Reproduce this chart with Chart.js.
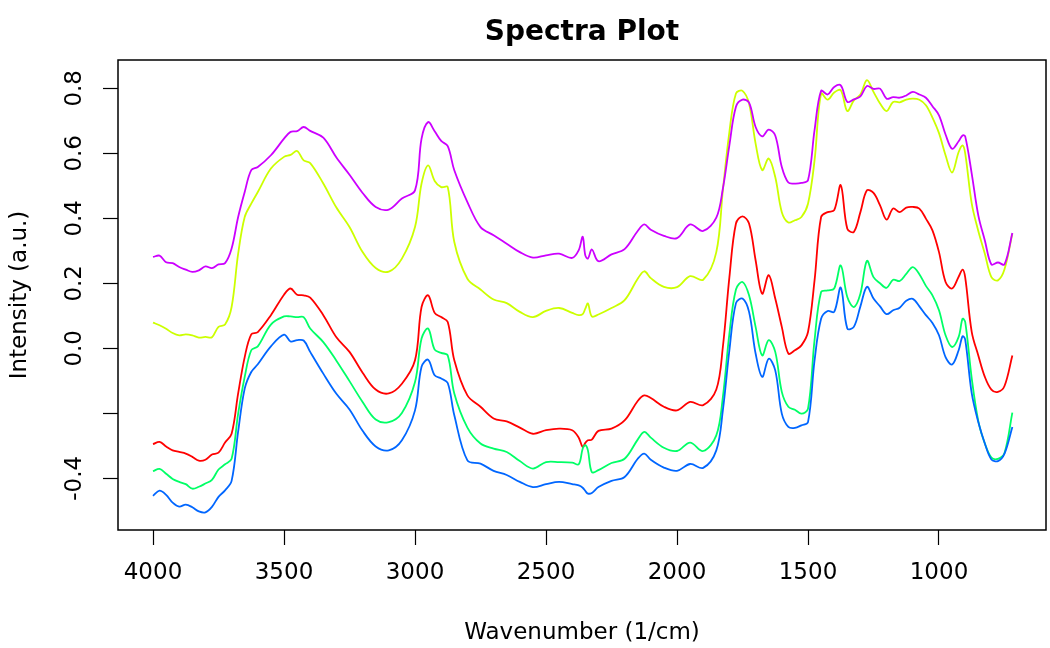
<!DOCTYPE html>
<html><head><meta charset="utf-8">
<script src="https://cdn.jsdelivr.net/npm/chart.js@4.4.1/dist/chart.umd.min.js"></script>
<style>html,body{margin:0;padding:0;background:#fff;}canvas{display:block;}</style>
</head><body>
<canvas id="c" width="1050" height="648"></canvas>
<script>
// Wavenumbers (1/cm), shared by all spectra
const wavenumbers = [4000,3975,3950,3925,3900,3875,3850,3825,3800,3775,3750,3725,3700,3675,3650,3625,3600,3550,3500,3475,3450,3425,3400,3350,3300,
3250,3200,3150,3100,3050,3000,2975,2950,2925,2900,2875,2850,2800,2750,2700,2650,2600,
2550,2500,2450,2400,2375,2360,2350,2340,2325,2300,2250,2200,2150,2125,2100,2050,2000,1950,1900,
1850,1825,1800,1775,1750,1725,1700,1675,1650,1625,1600,1575,1550,1525,1500,1475,1450,1425,1400,1375,1350,1325,1300,1275,1250,
1225,1200,1175,1150,1125,1100,1075,1050,1025,1000,975,950,925,910,900,875,850,825,800,775,750,720];

const spectrum1 = [-0.295,-0.288,-0.302,-0.314,-0.319,-0.324,-0.334,-0.346,-0.343,-0.327,-0.321,-0.290,-0.263,-0.139,-0.027,0.043,0.050,0.102,0.165,0.184,0.165,0.163,0.156,0.102,0.034,
-0.011,-0.075,-0.127,-0.139,-0.109,-0.037,0.127,0.163,0.109,0.096,0.081,-0.037,-0.145,-0.180,-0.216,-0.225,-0.244,
-0.263,-0.252,-0.247,-0.252,-0.275,-0.304,-0.291,-0.283,-0.281,-0.254,-0.247,-0.222,-0.162,-0.145,-0.153,-0.180,-0.191,-0.165,-0.175,
-0.127,0.004,0.219,0.384,0.406,0.384,0.271,0.168,0.225,0.153,0.066,-0.016,-0.006,0.009,0.050,0.209,0.404,0.419,0.425,0.502,0.368,0.358,0.419,0.486,0.478,
0.440,0.396,0.430,0.419,0.433,0.435,0.430,0.399,0.363,0.296,0.204,0.184,0.220,0.242,0.218,0.050,-0.022,-0.088,-0.127,-0.134,-0.116,-0.022];

const spectrum2 = [0.079,0.071,0.060,0.047,0.040,0.043,0.040,0.033,0.035,0.034,0.066,0.073,0.127,0.291,0.404,0.445,0.481,0.553,0.589,0.595,0.607,0.578,0.570,0.507,0.433,
0.373,0.296,0.247,0.236,0.276,0.373,0.507,0.563,0.515,0.496,0.496,0.327,0.214,0.181,0.150,0.139,0.112,
0.096,0.115,0.124,0.109,0.102,0.105,0.122,0.138,0.098,0.104,0.124,0.148,0.214,0.237,0.216,0.189,0.188,0.222,0.211,
0.296,0.486,0.666,0.784,0.792,0.753,0.630,0.548,0.584,0.527,0.419,0.387,0.394,0.404,0.445,0.578,0.784,0.765,0.787,0.794,0.730,0.763,0.781,0.825,0.789,
0.753,0.730,0.758,0.757,0.765,0.768,0.765,0.748,0.710,0.662,0.594,0.541,0.604,0.624,0.600,0.445,0.361,0.291,0.219,0.209,0.243,0.353];

const spectrum3 = [-0.378,-0.371,-0.386,-0.402,-0.411,-0.418,-0.432,-0.426,-0.416,-0.405,-0.373,-0.357,-0.340,-0.201,-0.088,-0.006,0.006,0.073,0.098,0.098,0.096,0.096,0.061,0.019,-0.038,
-0.101,-0.165,-0.219,-0.227,-0.199,-0.104,0.030,0.061,-0.004,-0.014,-0.022,-0.139,-0.244,-0.293,-0.309,-0.319,-0.347,
-0.370,-0.350,-0.350,-0.352,-0.357,-0.309,-0.298,-0.314,-0.381,-0.375,-0.353,-0.340,-0.281,-0.257,-0.275,-0.306,-0.316,-0.290,-0.316,
-0.268,-0.150,0.045,0.181,0.204,0.163,0.066,-0.022,0.025,-0.011,-0.134,-0.180,-0.189,-0.201,-0.186,0.025,0.173,0.178,0.184,0.255,0.158,0.127,0.168,0.269,0.219,
0.200,0.186,0.211,0.207,0.229,0.250,0.228,0.192,0.163,0.117,0.040,0.004,0.035,0.091,0.081,-0.093,-0.224,-0.293,-0.336,-0.340,-0.322,-0.198];

const spectrum4 = [-0.454,-0.438,-0.451,-0.475,-0.487,-0.481,-0.489,-0.502,-0.505,-0.488,-0.457,-0.437,-0.408,-0.256,-0.124,-0.073,-0.049,0.006,0.042,0.021,0.025,0.024,-0.011,-0.078,-0.140,
-0.188,-0.254,-0.302,-0.314,-0.283,-0.191,-0.057,-0.035,-0.083,-0.093,-0.107,-0.206,-0.345,-0.355,-0.377,-0.390,-0.411,
-0.427,-0.418,-0.411,-0.418,-0.422,-0.429,-0.439,-0.447,-0.445,-0.427,-0.408,-0.396,-0.340,-0.324,-0.343,-0.367,-0.377,-0.356,-0.368,
-0.314,-0.191,-0.006,0.139,0.153,0.112,-0.016,-0.088,-0.032,-0.068,-0.201,-0.242,-0.245,-0.237,-0.227,-0.037,0.091,0.115,0.112,0.187,0.061,0.066,0.129,0.189,0.153,
0.129,0.105,0.117,0.125,0.146,0.152,0.129,0.102,0.078,0.040,-0.027,-0.050,-0.006,0.037,0.027,-0.139,-0.227,-0.293,-0.342,-0.347,-0.324,-0.242];

const spectrum5 = [0.281,0.285,0.265,0.262,0.250,0.242,0.235,0.240,0.252,0.247,0.258,0.262,0.307,0.404,0.481,0.548,0.558,0.594,0.645,0.666,0.668,0.681,0.669,0.648,0.587,
0.534,0.478,0.435,0.427,0.461,0.486,0.645,0.696,0.668,0.638,0.622,0.548,0.450,0.373,0.348,0.322,0.296,
0.279,0.286,0.291,0.278,0.302,0.343,0.286,0.276,0.304,0.268,0.289,0.305,0.361,0.381,0.365,0.346,0.339,0.381,0.361,
0.402,0.491,0.625,0.743,0.765,0.756,0.681,0.652,0.673,0.655,0.558,0.510,0.507,0.509,0.517,0.671,0.792,0.781,0.804,0.809,0.758,0.766,0.775,0.807,0.798,
0.799,0.768,0.773,0.771,0.778,0.789,0.781,0.771,0.745,0.717,0.658,0.614,0.637,0.655,0.652,0.537,0.409,0.332,0.258,0.264,0.258,0.355];

const seriesNames = ['Spectrum 1','Spectrum 2','Spectrum 3','Spectrum 4','Spectrum 5'];
const seriesValues = [spectrum1, spectrum2, spectrum3, spectrum4, spectrum5];
const seriesColors = ['#FF0000','#CCFF00','#00FF66','#0066FF','#CC00FF'];

const xTicks = [4000,3500,3000,2500,2000,1500,1000];
const yTicks = [-0.4,-0.2,0.0,0.2,0.4,0.6,0.8];
const yTickLabels = ['-0.4','','0.0','0.2','0.4','0.6','0.8'];

const titleText = 'Spectra Plot';
const xTitle = 'Wavenumber (1/cm)';
const yTitle = 'Intensity (a.u.)';

seriesValues.forEach((s,i)=>{ if (s.length !== wavenumbers.length) throw new Error(seriesNames[i]+' length '+s.length+' != '+wavenumbers.length); });

Chart.defaults.font.family = 'DejaVu Sans';
Chart.defaults.color = '#000';

const boxPlugin = {
  id: 'plotBox',
  afterDatasetsDraw(chart) {
    const {ctx, chartArea: a} = chart;
    ctx.save();
    ctx.strokeStyle = '#000';
    ctx.lineWidth = 1.5;
    ctx.strokeRect(a.left, a.top, a.right - a.left, a.bottom - a.top);
    ctx.restore();
  }
};

const xMin = 591.6, xMax = 4133.6;
const yMin = -0.5591, yMax = 0.8871;

new Chart(document.getElementById('c'), {
  type: 'line',
  data: {
    datasets: seriesValues.map((vals, i) => ({
      label: seriesNames[i],
      data: wavenumbers.map((w, j) => ({x: w, y: vals[j]})),
      borderColor: seriesColors[i],
      backgroundColor: seriesColors[i],
      borderWidth: 1.8,
      pointRadius: 0,
      tension: 0.35,
      fill: false,
      order: seriesValues.length - i
    }))
  },
  options: {
    responsive: false,
    devicePixelRatio: 1,
    animation: false,
    layout: { padding: { left: 0, right: 4, top: 0, bottom: 0 } },
    plugins: { legend: { display: false }, tooltip: { enabled: false }, title: { display: false } },
    scales: {
      x: {
        type: 'linear', position: 'bottom', reverse: true, min: xMin, max: xMax,
        afterBuildTicks: s => { s.ticks = xTicks.map(v => ({value: v})); },
        afterFit: s => { s.height = 118; },
        ticks: { font: { size: 23 }, padding: 14, maxRotation: 0, minRotation: 0, callback: v => String(v), color: '#000' },
        grid: { display: true, drawOnChartArea: false, drawTicks: true, tickLength: 15, tickColor: '#000', tickWidth: 1.2 },
        border: { display: false },
        title: { display: true, text: xTitle, font: { size: 23 }, padding: { top: 0, bottom: 1 }, color: '#000' }
      },
      xTop: {
        type: 'linear', position: 'top', reverse: true, min: xMin, max: xMax,
        afterFit: s => { s.height = 60; },
        ticks: { display: false },
        grid: { display: false },
        border: { display: false },
        title: { display: true, text: titleText, font: { size: 28, weight: 'bold' }, padding: { top: 16.2, bottom: 0 }, color: '#000' }
      },
      y: {
        type: 'linear', position: 'left', min: yMin, max: yMax,
        afterBuildTicks: s => { s.ticks = yTicks.map(v => ({value: v})); },
        afterFit: s => { s.width = 118; },
        ticks: {
          font: { size: 23 }, padding: 5.6, minRotation: 90, maxRotation: 90, crossAlign: 'center', color: '#000',
          callback: (v) => { const k = yTicks.findIndex(t => Math.abs(t - v) < 1e-9); return k >= 0 ? yTickLabels[k] : ''; }
        },
        grid: { display: true, drawOnChartArea: false, drawTicks: true, tickLength: 15, tickColor: '#000', tickWidth: 1.2 },
        border: { display: false },
        title: { display: true, text: yTitle, font: { size: 23 }, padding: { top: 6.2, bottom: 0 }, color: '#000' }
      }
    }
  },
  plugins: [boxPlugin]
});
</script>
</body></html>
